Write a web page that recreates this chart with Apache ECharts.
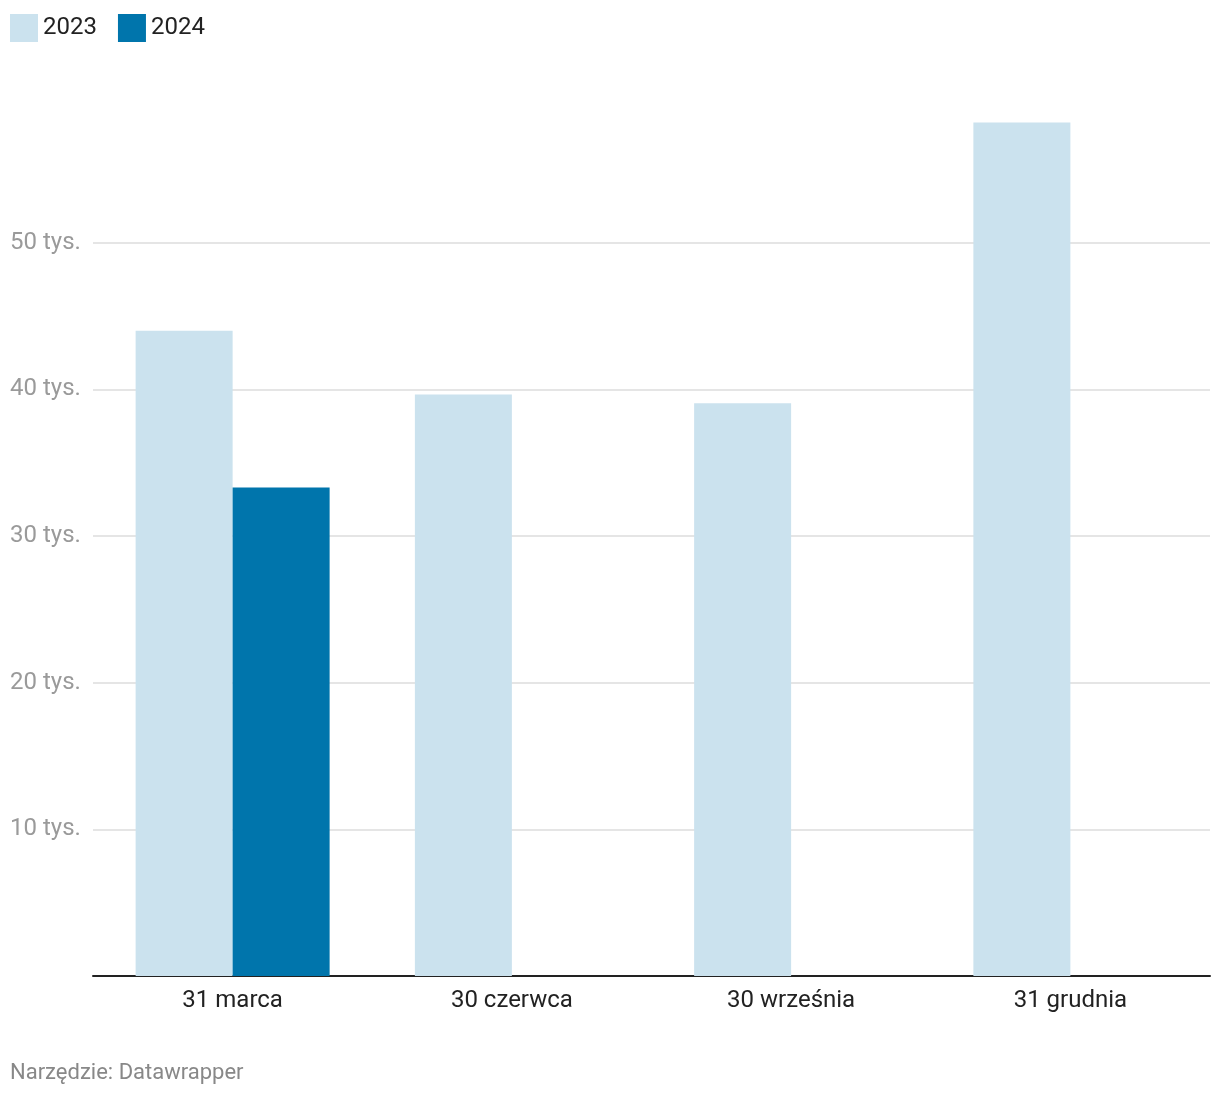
<!DOCTYPE html>
<html>
<head>
<meta charset="utf-8">
<script src="https://cdn.jsdelivr.net/npm/echarts@6/dist/echarts.min.js"></script>
<style>
  html, body { margin: 0; padding: 0; background: #fff; }
  #chart { width: 1220px; height: 1098px; }
</style>
</head>
<body>
<div id="chart"></div>
<script>
var categories = ['31 marca', '30 czerwca', '30 września', '31 grudnia'];
var values2023 = [44.0, 39.65, 39.05, 58.2];
var values2024 = [33.3, null, null, null];
var yTicks = [10, 20, 30, 40, 50];

var myChart = echarts.init(document.getElementById('chart'));
var option = {
    backgroundColor: '#ffffff',
    textStyle: { fontFamily: 'Roboto' },
    legend: {
        left: 10,
        top: 14,
        padding: 0,
        itemWidth: 28,
        itemHeight: 28,
        itemGap: 21,
        icon: 'rect',
        data: ['2023', '2024'],
        textStyle: { fontSize: 24, color: '#222', fontFamily: 'Roboto' }
    },
    graphic: [{
        type: 'text',
        left: 10,
        top: 1062,
        style: { text: 'Narzędzie: Datawrapper', fontSize: 22, fill: '#888', fontFamily: 'Roboto' }
    }],
    grid: { left: 93, right: 10, top: 96, bottom: 122 },
    xAxis: {
        type: 'category',
        data: categories,
        axisLine: { lineStyle: { color: '#222', width: 2 } },
        axisTick: { show: false },
        axisLabel: { fontSize: 24, color: '#222', margin: 13 }
    },
    yAxis: {
        type: 'value',
        min: 0,
        max: 60,
        interval: 10,
        axisLine: { show: false },
        axisTick: { show: false },
        splitLine: { showMinLine: false, showMaxLine: false, lineStyle: { color: '#e5e5e5', width: 2 } },
        axisLabel: {
            showMinLabel: false,
            showMaxLabel: false,
            align: 'left',
            margin: 83,
            fontSize: 24,
            padding: [3, 0, 0, 0],
            color: '#9a9a9a',
            formatter: function (v) { return yTicks.indexOf(v) >= 0 ? v + ' tys.' : ''; }
        }
    },
    series: [
        {
            name: '2023',
            type: 'bar',
            data: values2023,
            barWidth: 97,
            barGap: '0%',
            color: '#cbe2ee'
        },
        {
            name: '2024',
            type: 'bar',
            data: values2024,
            barWidth: 97,
            barGap: '0%',
            color: '#0075ac'
        }
    ]
};
myChart.setOption(option);
</script>
</body>
</html>
